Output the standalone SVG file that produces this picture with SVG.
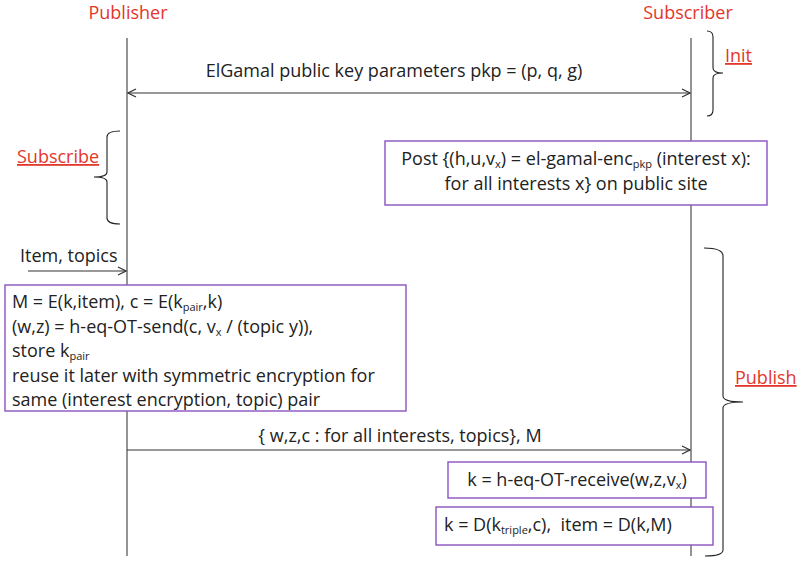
<svg xmlns="http://www.w3.org/2000/svg" width="799" height="561" viewBox="0 0 799 561">
<defs>
<style>
text{font-family:"Open Sans","Liberation Sans",sans-serif;font-size:18px;fill:#222}
.role{fill:#e3372b;font-size:18px}
.phase{fill:#e3372b;font-size:18px;text-decoration:underline}
.life{stroke:#707070;stroke-width:1.5;fill:none}
.msg{stroke:#333;stroke-width:1.2;fill:none}
.brace{stroke:#222;stroke-width:1.1;fill:none}
.box{fill:#fff;stroke:#8a52bf;stroke-width:1.4}
.sub{font-size:11px}
</style>
<marker id="ah" viewBox="0 0 10 10" refX="9" refY="5" markerWidth="10" markerHeight="10" markerUnits="userSpaceOnUse" orient="auto-start-reverse">
<polyline points="1,1 9,5 1,9" fill="none" stroke="#333" stroke-width="1.2"/>
</marker>
</defs>
<rect width="799" height="561" fill="#fff"/>

<g id="publisher">
<text class="role" x="128" y="19" text-anchor="middle">Publisher</text>
<line class="life" x1="127" y1="38" x2="127" y2="556"/>
</g>
<g id="subscriber">
<text class="role" x="688" y="19" text-anchor="middle">Subscriber</text>
<line class="life" x1="691" y1="38" x2="691" y2="556"/>
</g>

<g id="connectors">
<line class="msg" x1="128" y1="93" x2="690" y2="93" marker-start="url(#ah)" marker-end="url(#ah)"/>
<line class="msg" x1="28" y1="271" x2="126" y2="271" marker-end="url(#ah)"/>
<line class="msg" x1="127" y1="450" x2="690" y2="450" marker-end="url(#ah)"/>
</g>

<g id="labels">
<text x="394" y="77" text-anchor="middle">ElGamal public key parameters pkp = (p, q, g)</text>
<text x="20" y="262">Item, topics</text>
<text x="400" y="442" text-anchor="middle">{ w,z,c : for all interests, topics}, M</text>
</g>

<g id="init">
<path class="brace" d="M707,31 Q713,31 713,37 L713,68 Q713,73 723,73 Q713,73 713,78 L713,110 Q713,116 707,116"/>
<text class="phase" x="725" y="62">Init</text>
</g>

<g id="subscribe">
<path class="brace" d="M120,131 Q107,131 107,137 L107,172 Q107,177 94,177 Q107,177 107,182 L107,218 Q107,224 120,224"/>
<text class="phase" x="17" y="163">Subscribe</text>
</g>

<g id="publish">
<path class="brace" d="M704,248 Q723,248 723,256 L723,396 Q723,402 743,402 Q723,402 723,408 L723,550 Q723,556 705,556"/>
<text class="phase" x="735" y="384">Publish</text>
</g>

<g id="post">
<rect class="box" x="385" y="141" width="382" height="64"/>
<text x="576" y="165" text-anchor="middle">Post {(h,u,v<tspan class="sub" dy="3">x</tspan><tspan dy="-3">) = el-gamal-enc</tspan><tspan class="sub" dy="3">pkp</tspan><tspan dy="-3"> (interest x):</tspan></text>
<text x="576" y="190" text-anchor="middle">for all interests x} on public site</text>
</g>

<g id="publisher-box">
<rect class="box" x="5" y="285" width="401" height="126"/>
<text x="12" y="308">M = E(k,item), c = E(k<tspan class="sub" dy="3">pair</tspan><tspan dy="-3">,k)</tspan></text>
<text x="12" y="333">(w,z) = h-eq-OT-send(c, v<tspan class="sub" dy="3">x</tspan><tspan dy="-3"> / (topic y)),</tspan></text>
<text x="12" y="357">store k<tspan class="sub" dy="3">pair</tspan></text>
<text x="12" y="382">reuse it later with symmetric encryption for</text>
<text x="12" y="406">same (interest encryption, topic) pair</text>
</g>

<g id="receive">
<rect class="box" x="448" y="462" width="258" height="36"/>
<text x="577" y="486" text-anchor="middle">k = h-eq-OT-receive(w,z,v<tspan class="sub" dy="3">x</tspan><tspan dy="-3">)</tspan></text>
</g>

<g id="decrypt">
<rect class="box" x="436" y="507" width="277" height="38"/>
<text x="444" y="531" xml:space="preserve">k = D(k<tspan class="sub" dy="3">triple</tspan><tspan dy="-3">,c),  item = D(k,M)</tspan></text>
</g>
</svg>
